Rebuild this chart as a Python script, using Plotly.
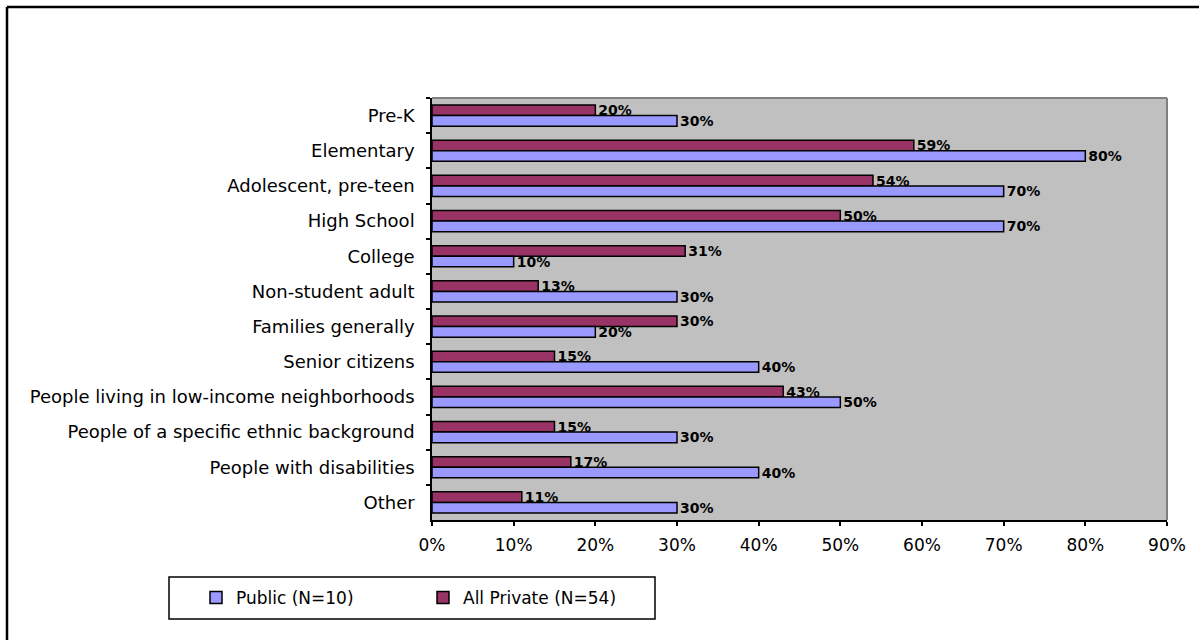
import plotly.graph_objects as go

# Target groups served, listed top to bottom
categories = [
    "Pre-K",
    "Elementary",
    "Adolescent, pre-teen",
    "High School",
    "College",
    "Non-student adult",
    "Families generally",
    "Senior citizens",
    "People living in low-income neighborhoods",
    "People of a specific ethnic background",
    "People with disabilities",
    "Other",
]

# Share of respondents (%)
private_pct = [20, 59, 54, 50, 31, 13, 30, 15, 43, 15, 17, 11]
public_pct = [30, 80, 70, 70, 10, 30, 20, 40, 50, 30, 40, 30]

x_ticks = [0, 10, 20, 30, 40, 50, 60, 70, 80, 90]
x_tick_labels = [f"{v}%" for v in x_ticks]

FONT = "DejaVu Sans, Arial, sans-serif"
W, H = 1199, 640
ML, MR, MT, MB = 432, 32, 98, 120
PW, PH = W - ML - MR, H - MT - MB


def px_x(p):
    return (p - ML) / PW


def px_y(p):
    return (H - MB - p) / PH


label_font = dict(family=FONT, size=14, color="black", weight="bold")

fig = go.Figure()
fig.add_trace(go.Bar(
    y=categories, x=private_pct, orientation="h",
    name="All Private (N=54)", legendrank=2,
    marker=dict(color="#993366", line=dict(color="black", width=1.5)),
    text=[f"{v}%" for v in private_pct], texttemplate="%{text}",
    textposition="outside", textfont=label_font,
    constraintext="none", cliponaxis=False,
))
fig.add_trace(go.Bar(
    y=categories, x=public_pct, orientation="h",
    name="Public (N=10)", legendrank=1,
    marker=dict(color="#9999FF", line=dict(color="black", width=1.5)),
    text=[f"{v}%" for v in public_pct], texttemplate="%{text}",
    textposition="outside", textfont=label_font,
    constraintext="none", cliponaxis=False,
))

shapes = [
    # grey frame on top and right of the plot area
    dict(type="line", xref="paper", yref="paper", x0=0, x1=1, y0=1, y1=1,
         line=dict(color="#808080", width=2)),
    dict(type="line", xref="paper", yref="paper", x0=1, x1=1, y0=0, y1=1,
         line=dict(color="#808080", width=2)),
    # outer chart frame (left and top edges)
    dict(type="line", xref="paper", yref="paper",
         x0=px_x(7), x1=px_x(7), y0=px_y(700), y1=px_y(7),
         line=dict(color="black", width=2.5)),
    dict(type="line", xref="paper", yref="paper",
         x0=px_x(7), x1=px_x(1260), y0=px_y(7), y1=px_y(7),
         line=dict(color="black", width=2.5)),
    # legend box
    dict(type="rect", xref="paper", yref="paper",
         x0=px_x(169), x1=px_x(655), y0=px_y(619), y1=px_y(577),
         line=dict(color="black", width=1.5), fillcolor="rgba(0,0,0,0)"),
]

fig.update_layout(
    width=W, height=H,
    margin=dict(l=ML, r=MR, t=MT, b=MB),
    paper_bgcolor="white",
    plot_bgcolor="#C0C0C0",
    barmode="group",
    bargap=0.4,
    bargroupgap=0,
    font=dict(family=FONT, size=17, color="black"),
    showlegend=True,
    legend=dict(
        orientation="h", x=px_x(196), xanchor="left",
        y=px_y(598), yanchor="middle",
        traceorder="normal", entrywidth=182, entrywidthmode="pixels",
        bgcolor="rgba(0,0,0,0)", borderwidth=0,
        font=dict(family=FONT, size=17, color="black"),
    ),
    shapes=shapes,
)

fig.update_xaxes(
    range=[0, 90], tickmode="array", tickvals=x_ticks, ticktext=x_tick_labels,
    showgrid=False, zeroline=False,
    showline=True, linecolor="black", linewidth=1.5,
    ticks="outside", ticklen=4, tickcolor="black", tickwidth=1.5,
    ticklabelstandoff=5,
    tickfont=dict(family=FONT, size=17, color="black"),
)
fig.update_yaxes(
    autorange="reversed", showgrid=False, zeroline=False,
    showline=True, linecolor="black", linewidth=1.5,
    ticks="outside", ticklen=4, tickcolor="black", tickwidth=1.5,
    tickson="boundaries", ticklabelstandoff=12,
    tickfont=dict(family=FONT, size=18, color="black"),
)

fig.write_html("out.html")
